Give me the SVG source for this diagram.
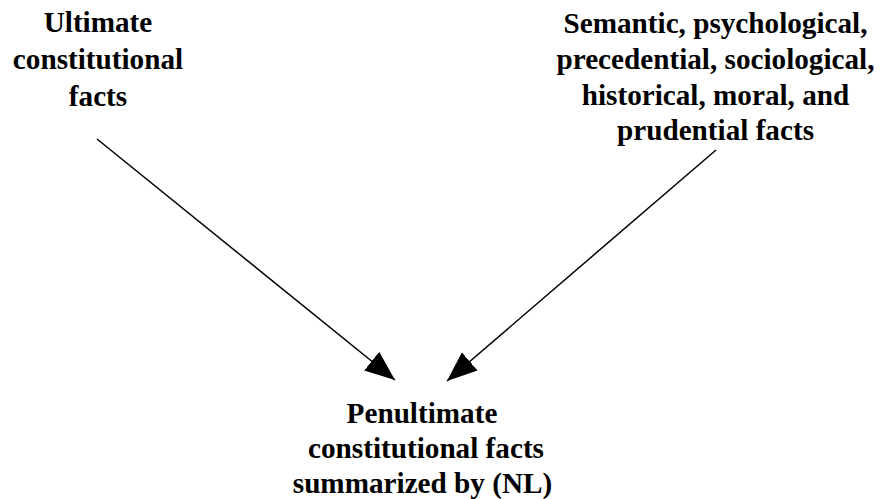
<svg xmlns="http://www.w3.org/2000/svg" width="881" height="499" viewBox="0 0 881 499">
<style>
.t{font-family:'Liberation Serif','Times New Roman',serif;font-weight:700;font-size:29.2px;fill:#000;text-anchor:middle}
.c{stroke:#000;stroke-width:1.5;fill:none}
</style>
<defs>
<marker id="ah" markerUnits="userSpaceOnUse" markerWidth="32" markerHeight="28" viewBox="0 0 32 28" refX="30" refY="14" orient="auto">
<path d="M0,2 L30,14 L0,26 Z" fill="#000"/>
</marker>
</defs>
<rect width="881" height="499" fill="#fff"/>
<g id="n1" class="t">
<text x="98" y="32">Ultimate</text>
<text x="98" y="69">constitutional</text>
<text x="98" y="106">facts</text>
</g>
<g id="n2" class="t">
<text x="715.5" y="33">Semantic, psychological,</text>
<text x="715.5" y="69">precedential, sociological,</text>
<text x="715.5" y="105">historical, moral, and</text>
<text x="715.5" y="140">prudential facts</text>
</g>
<g id="n3" class="t">
<text x="422" y="423">Penultimate</text>
<text x="426" y="458">constitutional facts</text>
<text x="422.5" y="493">summarized by (NL)</text>
</g>
<g id="connectors">
<line class="c" x1="97" y1="139" x2="395" y2="380" marker-end="url(#ah)"/>
<line class="c" x1="716" y1="150" x2="447" y2="381" marker-end="url(#ah)"/>
</g>
</svg>
